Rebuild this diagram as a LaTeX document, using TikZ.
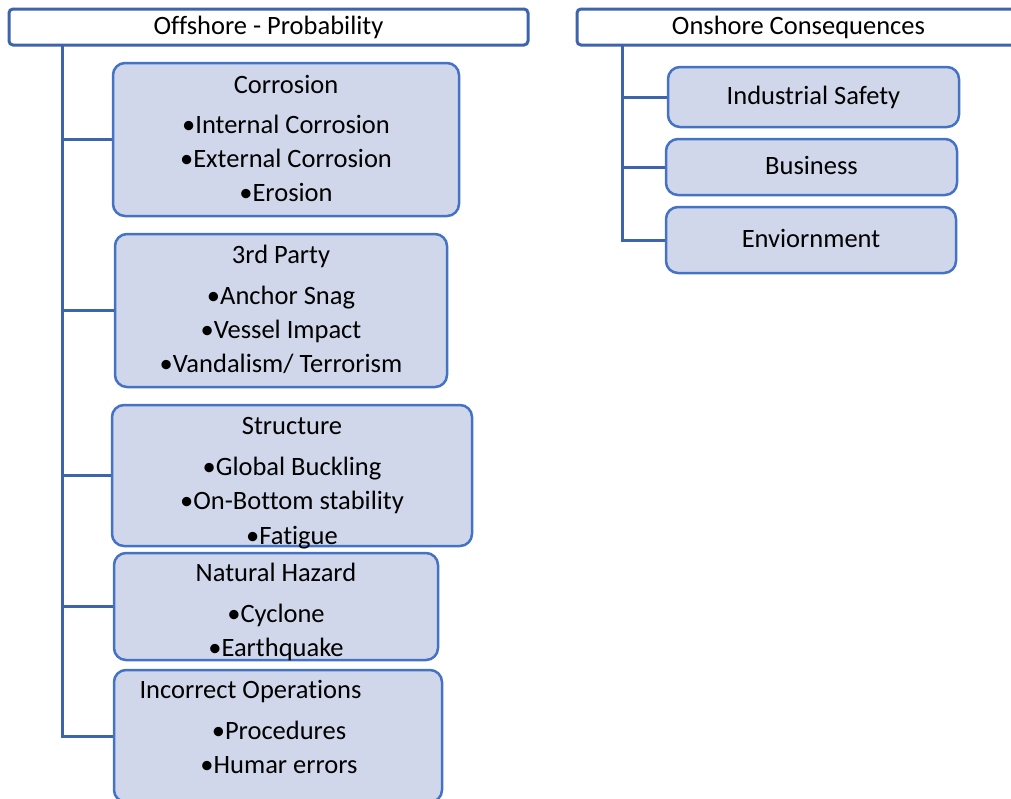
\documentclass[tikz,border=0pt]{standalone}
\usepackage{fontspec}
\setmainfont{Carlito}[Ligatures=NoCommon]
\definecolor{boxline}{HTML}{4472C4}
\definecolor{boxfill}{HTML}{D0D7EA}
\definecolor{linkcol}{HTML}{3E64AE}
\begin{document}
\begin{tikzpicture}[x=1pt,y=-1pt,
  catbox/.style={draw=boxline,fill=boxfill,line width=2.5pt,rounded corners=12pt,inner sep=0pt},
  hdr/.style={draw=linkcol,fill=white,line width=3pt,rounded corners=4pt,inner sep=0pt},
  link/.style={draw=linkcol,line width=3pt},
  txt/.style={anchor=base,inner sep=0pt,font=\fontsize{26.5}{32}\selectfont}
]
\useasboundingbox (0,0) rectangle (1011,798);
% headers
\node[hdr,minimum width=519pt,minimum height=36pt] (hL) at (268.5,27) {};
\node[hdr,minimum width=443pt,minimum height=36pt] (hR) at (798.5,27) {};
\node[txt] (hLt) at (268.5,34) {Offshore - Probability};
\node[txt] (hRt) at (798.5,34) {Onshore Consequences};
\coordinate (tL) at (62,45);
\coordinate (tR) at (622,45);
% left boxes
\node[catbox,minimum width=346pt,minimum height=153pt] (corr) at (286,139.5) {};
\node[catbox,minimum width=332pt,minimum height=153pt] (third) at (281,310.5) {};
\node[catbox,minimum width=360pt,minimum height=141pt] (struc) at (292,475.5) {};
\node[catbox,minimum width=324pt,minimum height=107pt] (nat) at (276,606.5) {};
\node[catbox,minimum width=328pt,minimum height=132pt] (inc) at (278,736) {};
% right boxes
\node[catbox,minimum width=291pt,minimum height=60pt] (ind) at (813.5,97) {};
\node[catbox,minimum width=291pt,minimum height=56pt] (bus) at (811.5,167) {};
\node[catbox,minimum width=290pt,minimum height=66pt] (env) at (811,240) {};
% connectors
\draw[link] (tL) |- (inc.west);
\draw[link] (tL |- corr.west) -- (corr.west);
\draw[link] (tL |- third.west) -- (third.west);
\draw[link] (tL |- struc.west) -- (struc.west);
\draw[link] (tL |- nat.west) -- (nat.west);
\draw[link] (tR) |- (env.west);
\draw[link] (tR |- ind.west) -- (ind.west);
\draw[link] (tR |- bus.west) -- (bus.west);
% texts
\node[txt] (c0) at (286,93) {Corrosion};
\node[txt] (c1) at (286,133) {•Internal Corrosion};
\node[txt] (c2) at (286,167) {•External Corrosion};
\node[txt] (c3) at (286,201) {•Erosion};
\node[txt] (p0) at (281,263) {3rd Party};
\node[txt] (p1) at (281,304) {•Anchor Snag};
\node[txt] (p2) at (281,338) {•Vessel Impact};
\node[txt] (p3) at (281,372) {•Vandalism/ Terrorism};
\node[txt] (s0) at (292,434) {Structure};
\node[txt] (s1) at (292,475) {•Global Buckling};
\node[txt] (s2) at (292,509) {•On-Bottom stability};
\node[txt] (s3) at (292,544) {•Fatigue};
\node[txt] (n0) at (276,581) {Natural Hazard};
\node[txt] (n1) at (276,622) {•Cyclone};
\node[txt] (n2) at (276,656) {•Earthquake};
\node[txt] (i0) at (250.5,698) {Incorrect Operations};
\node[txt] (i1) at (279,739) {•Procedures};
\node[txt] (i2) at (279,773) {•Humar errors};
\node[txt] (r1) at (813.5,104) {Industrial Safety};
\node[txt] (r2) at (811.5,174) {Business};
\node[txt] (r3) at (811,247) {Enviornment};
\end{tikzpicture}
\end{document}
